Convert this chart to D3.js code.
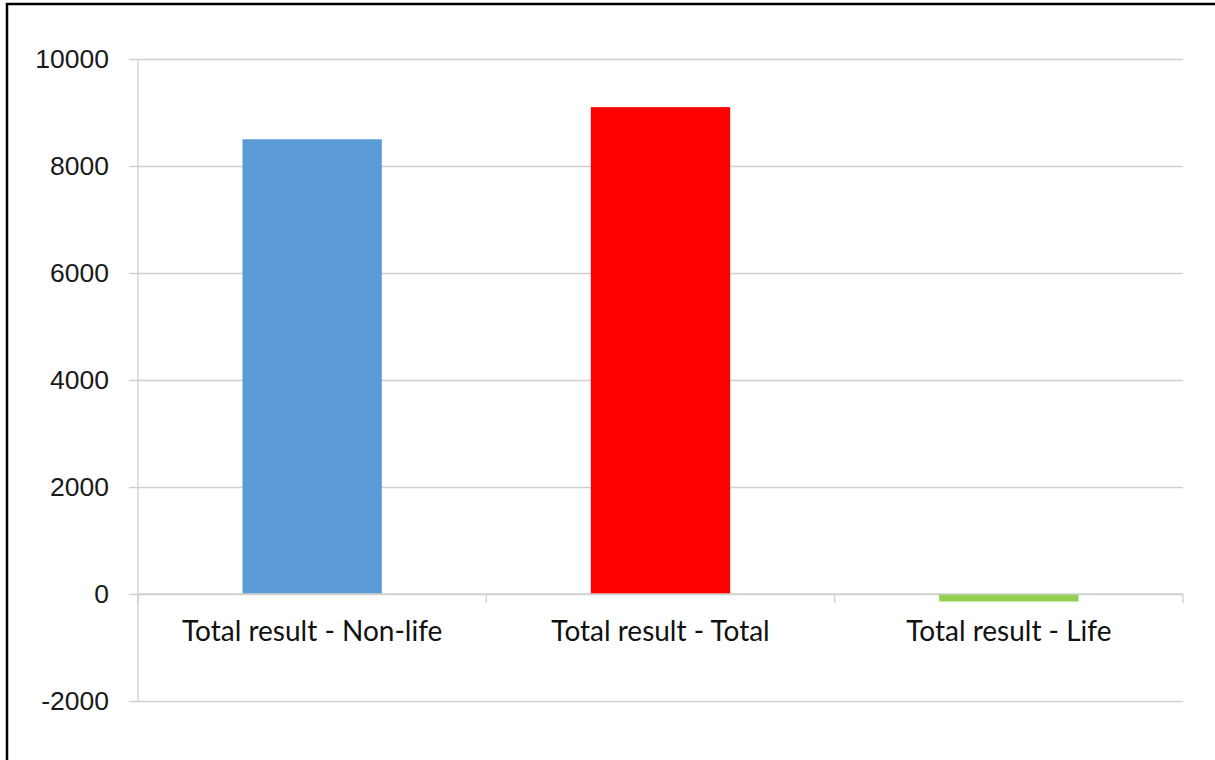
<!DOCTYPE html>
<html>
<head>
<meta charset="utf-8">
<script src="https://cdn.jsdelivr.net/npm/d3@7"></script>
<style>
  html, body { margin: 0; padding: 0; background: #fff; }
  svg { display: block; }
</style>
</head>
<body>
<svg id="chart" width="1215" height="760"></svg>
<script>
// Result totals by line of business
const categories = ["Total result - Non-life", "Total result - Total", "Total result - Life"];
const values = [8500, 9100, -140];
const barColors = ["#5b9bd5", "#ff0000", "#92d050"];
const yTicks = [-2000, 0, 2000, 4000, 6000, 8000, 10000];

const svg = d3.select("#chart");
const W = 1215, H = 760;
const plot = { left: 138, right: 1183, top: 59, bottom: 701 };

// outer frame (top and left edges visible)
svg.append("rect").attr("x", 0).attr("y", 0).attr("width", W).attr("height", H).attr("fill", "#fff");
svg.append("path")
  .attr("d", `M7,${H} V4 H${W}`)
  .attr("fill", "none").attr("stroke", "#000").attr("stroke-width", 2.5);

const y = d3.scaleLinear().domain([-2000, 10000]).range([plot.bottom, plot.top]);
const x = d3.scaleBand().domain(categories).range([plot.left, plot.right])
  .paddingInner(0.6).paddingOuter(0.3);

// horizontal gridlines with left tick marks
const yAxis = d3.axisLeft(y).tickValues(yTicks)
  .tickSize(plot.right - 129)
  .tickFormat(d => String(d))
  .tickPadding(20);
const gy = svg.append("g").attr("transform", `translate(${plot.right},0)`).call(yAxis);
gy.select(".domain").remove();
gy.selectAll(".tick line").attr("stroke", "#d0d0d0").attr("stroke-width", 1.3);
gy.selectAll(".tick text")
  .attr("font-family", "'Liberation Sans', Arial, sans-serif")
  .attr("font-size", 26.5).attr("fill", "#1a1a1a");

// vertical value axis line
svg.append("line")
  .attr("x1", plot.left).attr("x2", plot.left)
  .attr("y1", plot.top).attr("y2", plot.bottom)
  .attr("stroke", "#d0d0d0").attr("stroke-width", 1.3);

// bars
svg.append("g").selectAll("rect")
  .data(categories)
  .join("rect")
  .attr("x", d => x(d))
  .attr("width", x.bandwidth())
  .attr("y", (d, i) => y(Math.max(0, values[i])))
  .attr("height", (d, i) => Math.abs(y(values[i]) - y(0)))
  .attr("fill", (d, i) => barColors[i]);

// category axis at zero
const step = x.step();
const boundaries = [0, 1, 2, 3].map(i => plot.left + i * step);
svg.append("line")
  .attr("x1", plot.left).attr("x2", plot.right)
  .attr("y1", y(0)).attr("y2", y(0))
  .attr("stroke", "#d0d0d0").attr("stroke-width", 1.3);
svg.append("g").selectAll("line")
  .data(boundaries)
  .join("line")
  .attr("x1", d => d).attr("x2", d => d)
  .attr("y1", y(0)).attr("y2", y(0) + 9)
  .attr("stroke", "#d0d0d0").attr("stroke-width", 1.3);

svg.append("g").selectAll("text")
  .data(categories)
  .join("text")
  .attr("x", d => x(d) + x.bandwidth() / 2)
  .attr("y", y(0) + 47)
  .attr("text-anchor", "middle")
  .attr("font-family", "Lato, 'Open Sans', sans-serif")
  .attr("font-size", 28)
  .attr("fill", "#111")
  .text(d => d);
</script>
</body>
</html>
